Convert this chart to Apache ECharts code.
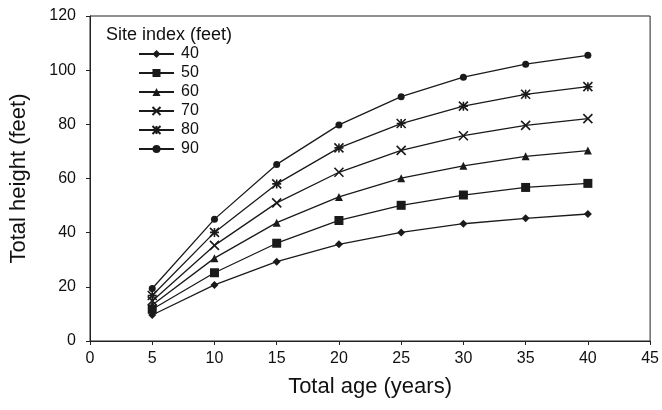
<!DOCTYPE html>
<html>
<head>
<meta charset="utf-8">
<script src="https://cdn.jsdelivr.net/npm/echarts@6/dist/echarts.min.js"></script>
<style>html,body{margin:0;padding:0;background:#fff}#c{width:662px;height:410px}</style>
</head>
<body>
<div id="c"></div>
<script>
var ages = [5, 10, 15, 20, 25, 30, 35, 40];
var siteIndexNames = ['40', '50', '60', '70', '80', '90'];
var si40 = [9.6, 20.7, 29.3, 35.7, 40.1, 43.3, 45.3, 46.9];
var si50 = [11.7, 25.2, 36.1, 44.5, 50.1, 53.9, 56.7, 58.2];
var si60 = [13.3, 30.6, 43.7, 53.2, 60.1, 64.7, 68.2, 70.3];
var si70 = [14.8, 35.3, 51.0, 62.3, 70.4, 75.8, 79.6, 82.1];
var si80 = [16.8, 40.1, 58.0, 71.3, 80.3, 86.7, 91.1, 93.9];
var si90 = [19.4, 45.0, 65.2, 79.8, 90.2, 97.4, 102.2, 105.5];
var xTicks = [0, 5, 10, 15, 20, 25, 30, 35, 40, 45];
var yTicks = [0, 20, 40, 60, 80, 100, 120];

var allSeries = [si40, si50, si60, si70, si80, si90];
var symbols = [
  'diamond',
  'rect',
  'triangle',
  'path://M0,0L10,10M10,0L0,10',
  'path://M0,0L10,10M10,0L0,10M5,0L5,10M0,5L10,5',
  'circle'
];
var sizes = [8, 9, 8, 9, 9, 7];
var font = 'Liberation Sans, Arial, sans-serif';

function pairs(vals) {
  return ages.map(function (a, i) { return [a, vals[i]]; });
}

var series = allSeries.map(function (vals, i) {
  var isPath = symbols[i].indexOf('path://') === 0;
  return {
    name: siteIndexNames[i],
    type: 'line',
    data: pairs(vals),
    symbol: symbols[i],
    symbolSize: sizes[i],
    showAllSymbol: true,
    lineStyle: { color: '#1a1a1a', width: 1.3 },
    itemStyle: isPath ? { color: '#1a1a1a', borderColor: '#1a1a1a', borderWidth: 1.6 } : { color: '#1a1a1a', borderWidth: 0 },
    emphasis: { disabled: true },
    animation: false
  };
});

var chart = echarts.init(document.getElementById('c'), null, { renderer: 'canvas' });
chart.setOption({
  backgroundColor: '#fff',
  animation: false,
  title: {
    text: 'Site index (feet)',
    left: 106,
    top: 26,
    padding: 0,
    textStyle: { fontFamily: font, fontSize: 18, fontWeight: 'normal', color: '#111' }
  },
  legend: {
    orient: 'vertical',
    left: 138,
    top: 46,
    padding: 0,
    itemWidth: 35,
    itemHeight: 10,
    itemGap: 3,
    selectedMode: false,
    data: siteIndexNames,
    textStyle: { fontFamily: font, fontSize: 16, color: '#111', padding: [0, 0, 0, 2] }
  },
  grid: {
    left: 87, right: 11, top: 16, bottom: 69,
    show: true, borderColor: '#222', borderWidth: 1, backgroundColor: 'transparent'
  },
  xAxis: {
    type: 'value',
    min: xTicks[0], max: xTicks[xTicks.length - 1], interval: 5,
    name: 'Total age (years)',
    nameLocation: 'middle',
    nameGap: 35,
    nameTextStyle: { fontFamily: font, fontSize: 22, color: '#111' },
    axisLine: { show: true, lineStyle: { color: '#222', width: 1 } },
    axisTick: { show: true, length: 4, lineStyle: { color: '#222' } },
    axisLabel: { fontFamily: font, fontSize: 16, color: '#111', margin: 10 },
    splitLine: { show: false }
  },
  yAxis: {
    type: 'value',
    min: yTicks[0], max: yTicks[yTicks.length - 1], interval: 20,
    name: 'Total height (feet)',
    nameLocation: 'middle',
    nameGap: 60,
    nameTextStyle: { fontFamily: font, fontSize: 22, color: '#111' },
    axisLine: { show: true, lineStyle: { color: '#222', width: 1 } },
    axisTick: { show: true, length: 4, lineStyle: { color: '#222' } },
    axisLabel: { fontFamily: font, fontSize: 16, color: '#111', margin: 14 },
    splitLine: { show: false }
  },
  series: series
});
</script>
</body>
</html>
